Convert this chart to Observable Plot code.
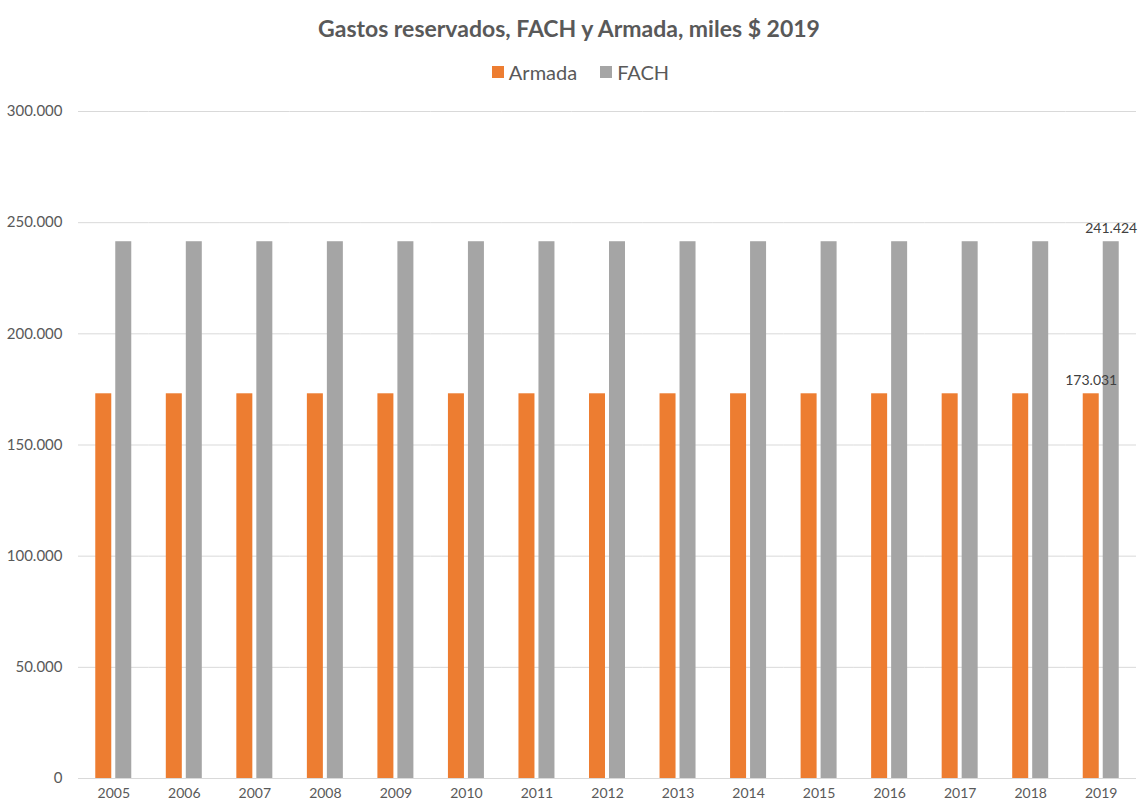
<!DOCTYPE html>
<html>
<head>
<meta charset="utf-8">
<script src="https://cdn.jsdelivr.net/npm/d3@7"></script>
<script src="https://cdn.jsdelivr.net/npm/@observablehq/plot@0.6"></script>
<style>
  body { margin: 0; background: #fff; font-family: Lato, "Noto Sans", sans-serif; color: #595959; }
  #title { text-align: center; font-weight: bold; font-size: 23px; line-height: 28px; height: 28px; padding-top: 14px; }
  #legend { display: flex; justify-content: center; align-items: center; gap: 23px; margin-top: 18px; padding-left: 23px; height: 24px; line-height: 24px; font-size: 20px; }
  #legend span.item { display: flex; align-items: center; gap: 5px; }
  #legend span.sw { width: 12px; height: 12px; display: inline-block; }
  #chart { margin-top: 6px; }
</style>
</head>
<body>
<div id="title">Gastos reservados, FACH y Armada, miles $ 2019</div>
<div id="legend"></div>
<div id="chart"></div>
<script>
const years = ["2005","2006","2007","2008","2009","2010","2011","2012","2013","2014","2015","2016","2017","2018","2019"];
const series = ["Armada", "FACH"];
const colors = ["#ED7D31", "#A5A5A5"];
const armada = [173031,173031,173031,173031,173031,173031,173031,173031,173031,173031,173031,173031,173031,173031,173031];
const fach   = [241424,241424,241424,241424,241424,241424,241424,241424,241424,241424,241424,241424,241424,241424,241424];
const yTicks = [0, 50000, 100000, 150000, 200000, 250000, 300000];
const labelYears = ["2019"];

const rows = [];
years.forEach((yr, i) => {
  rows.push({year: yr, series: "Armada", value: armada[i]});
  rows.push({year: yr, series: "FACH", value: fach[i]});
});

const locale = d3.formatLocale({decimal: ",", thousands: ".", grouping: [3], currency: ["$", ""]});
const fmt = locale.format(",");

const legend = document.getElementById("legend");
series.forEach((s, i) => {
  const it = document.createElement("span");
  it.className = "item";
  it.innerHTML = `<span class="sw" style="background:${colors[i]}"></span><span>${s}</span>`;
  legend.appendChild(it);
});

const plot = Plot.plot({
  width: 1138,
  height: 714,
  marginTop: 21,
  marginBottom: 26,
  marginLeft: 78,
  marginRight: 2,
  style: {fontFamily: "Lato, 'Noto Sans', sans-serif", fontSize: "14px", color: "#595959", background: "white", overflow: "visible"},
  fx: {domain: years, padding: 0, round: false, label: null, tickSize: 0, tickPadding: 10, axis: "bottom"},
  x: {domain: series, paddingInner: 0.2, paddingOuter: 0.8635, round: false, axis: null},
  y: {domain: [0, 300000], ticks: yTicks, tickFormat: fmt, label: null, tickSize: 0, tickPadding: 20},
  color: {domain: series, range: colors},
  marks: [
    Plot.gridY(yTicks, {stroke: "#D9D9D9", strokeOpacity: 1}),
    Plot.ruleY([0], {stroke: "#D9D9D9"}),
    Plot.axisY(yTicks, {tickFormat: fmt, tickSize: 0, tickPadding: 16, fontSize: 15, label: null}),
    Plot.barY(rows, {fx: "year", x: "series", y: "value", fill: "series"}),
    Plot.text(rows.filter(d => labelYears.includes(d.year)), {
      fx: "year", x: "series", y: "value", text: d => fmt(d.value),
      lineAnchor: "bottom", dy: -9, fill: "#404040", fontSize: 14
    })
  ]
});
document.getElementById("chart").appendChild(plot);
</script>
</body>
</html>
